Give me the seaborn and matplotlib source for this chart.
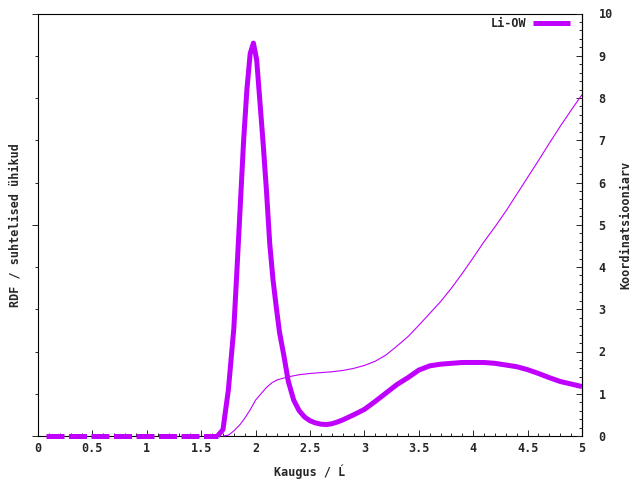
import numpy as np
import pandas as pd
import seaborn as sns
import matplotlib
matplotlib.use("Agg")
import matplotlib.pyplot as plt
from matplotlib.ticker import MultipleLocator, FuncFormatter

# RDF Li-OW
rdf_r = [0.075, 1.65, 1.70, 1.75, 1.80, 1.83, 1.86, 1.89, 1.92, 1.95, 1.98,
         2.01, 2.04, 2.07, 2.10, 2.13, 2.16, 2.19, 2.22, 2.26, 2.30, 2.35,
         2.40, 2.45, 2.50, 2.55, 2.60, 2.65, 2.70, 2.75, 2.80, 2.90, 3.00,
         3.10, 3.20, 3.30, 3.40, 3.50, 3.60, 3.70, 3.80, 3.90, 4.00, 4.10,
         4.20, 4.30, 4.40, 4.50, 4.60, 4.70, 4.80, 4.90, 5.00]
rdf_g = [0.0, 0.0, 0.15, 1.1, 2.55, 4.0, 5.5, 7.0, 8.2, 9.05, 9.3,
         8.9, 7.9, 6.9, 5.8, 4.55, 3.7, 3.05, 2.45, 1.9, 1.3, 0.85,
         0.6, 0.45, 0.36, 0.31, 0.28, 0.27, 0.29, 0.33, 0.38, 0.5, 0.63,
         0.82, 1.02, 1.22, 1.38, 1.56, 1.66, 1.70, 1.72, 1.74, 1.74, 1.74,
         1.72, 1.68, 1.64, 1.57, 1.48, 1.38, 1.29, 1.23, 1.17]

# coordination number
cn_r = [1.70, 1.75, 1.80, 1.86, 1.90, 1.95, 2.00, 2.05, 2.10, 2.15, 2.20,
        2.30, 2.40, 2.50, 2.60, 2.70, 2.80, 2.90, 3.00, 3.10, 3.20, 3.30,
        3.40, 3.50, 3.60, 3.70, 3.80, 3.90, 4.00, 4.10, 4.20, 4.30, 4.40,
        4.50, 4.60, 4.70, 4.80, 4.90, 5.00]
cn_n = [0.0, 0.02, 0.12, 0.28, 0.42, 0.62, 0.85, 1.0, 1.15, 1.26, 1.33,
        1.40, 1.45, 1.48, 1.50, 1.52, 1.55, 1.60, 1.67, 1.77, 1.92, 2.13,
        2.35, 2.62, 2.90, 3.18, 3.50, 3.85, 4.22, 4.60, 4.95, 5.32, 5.72,
        6.12, 6.52, 6.93, 7.33, 7.71, 8.08]

color = "#c000ff"
sns.set_style("white")
plt.rcParams["font.family"] = ["DejaVu Sans Mono", "DejaVu Sans"]
plt.rcParams["font.weight"] = "bold"
plt.rcParams["axes.labelweight"] = "bold"
plt.rcParams["font.size"] = 8.5

rdf = pd.DataFrame({"r": rdf_r, "g": rdf_g})
cn = pd.DataFrame({"r": cn_r, "n": cn_n})
n_zero = 2  # leading zero part drawn dashed
rdf_flat = rdf.iloc[:n_zero]
rdf_peak = rdf.iloc[n_zero - 1:]

fig = plt.figure(figsize=(6.4, 4.8), dpi=100)
ax = fig.add_axes([38 / 640, 44 / 480, 544 / 640, 422.5 / 480])
ax2 = ax.twinx()

lw = 3.6
sns.lineplot(data=rdf_flat, x="r", y="g", ax=ax2, color=color, lw=lw,
             estimator=None, sort=False, label="Li-OW")
ax2.lines[-1].set_dashes([3.6, 0.9])
ax2.lines[-1].set_dash_capstyle("butt")
sns.lineplot(data=rdf_peak, x="r", y="g", ax=ax2, color=color, lw=lw,
             estimator=None, sort=False)
sns.lineplot(data=cn, x="r", y="n", ax=ax2, color=color, lw=0.8,
             estimator=None, sort=False)
for ln in ax2.lines:
    ln.set_clip_on(False)
    ln.set_solid_capstyle("butt")

ax.set_xlim(0, 5)
ax.set_ylim(0, 10)
ax2.set_ylim(0, 10)

ax.xaxis.set_major_locator(MultipleLocator(0.5))
ax.xaxis.set_minor_locator(MultipleLocator(0.1))
ax.xaxis.set_major_formatter(FuncFormatter(lambda v, p: f"{v:g}"))
ax.yaxis.set_major_locator(MultipleLocator(5))
ax.yaxis.set_minor_locator(MultipleLocator(1))
ax2.yaxis.set_major_locator(MultipleLocator(1))
ax2.yaxis.set_minor_locator(MultipleLocator(0.2))
ax2.yaxis.set_major_formatter(FuncFormatter(lambda v, p: f"{v:g}"))

ax.tick_params(axis="x", which="both", direction="in", bottom=True, top=False,
               width=0.7, pad=4)
ax.tick_params(axis="x", which="major", length=4)
ax.tick_params(axis="x", which="minor", length=2)
ax.tick_params(axis="y", which="both", direction="out", left=True, right=False,
               labelleft=False, width=0.7)
ax.tick_params(axis="y", which="major", length=4)
ax.tick_params(axis="y", which="minor", length=2)
ax2.tick_params(axis="y", which="both", direction="in", right=True,
                width=0.7, pad=12)
ax2.tick_params(axis="y", which="major", length=4)
ax2.tick_params(axis="y", which="minor", length=2)
for lab in ax.get_xticklabels() + ax2.get_yticklabels():
    lab.set_fontweight("bold")

for s in ax.spines.values():
    s.set_color("black")
    s.set_linewidth(0.8)
for name, s in ax2.spines.items():
    s.set_visible(name == "right")
    s.set_color("black")
    s.set_linewidth(0.8)

ax.set_xlabel("Kaugus / Ĺ", labelpad=7, fontweight="bold")
ax.set_ylabel("RDF / suhtelised ühikud", labelpad=8, fontweight="bold")
ax2.set_ylabel("Koordinatsiooniarv", labelpad=5, fontweight="bold")

leg = ax2.legend(loc="upper right", bbox_to_anchor=(1 - 8 / 544, 1),
                 frameon=False, handlelength=3.2,
                 handletextpad=0.5, borderaxespad=0.1, borderpad=0.2,
                 markerfirst=False, prop={"weight": "bold", "size": 8.5})
for h in leg.get_lines():
    h.set_linestyle("-")
    h.set_linewidth(lw)

fig.savefig("out.png", dpi=100)
